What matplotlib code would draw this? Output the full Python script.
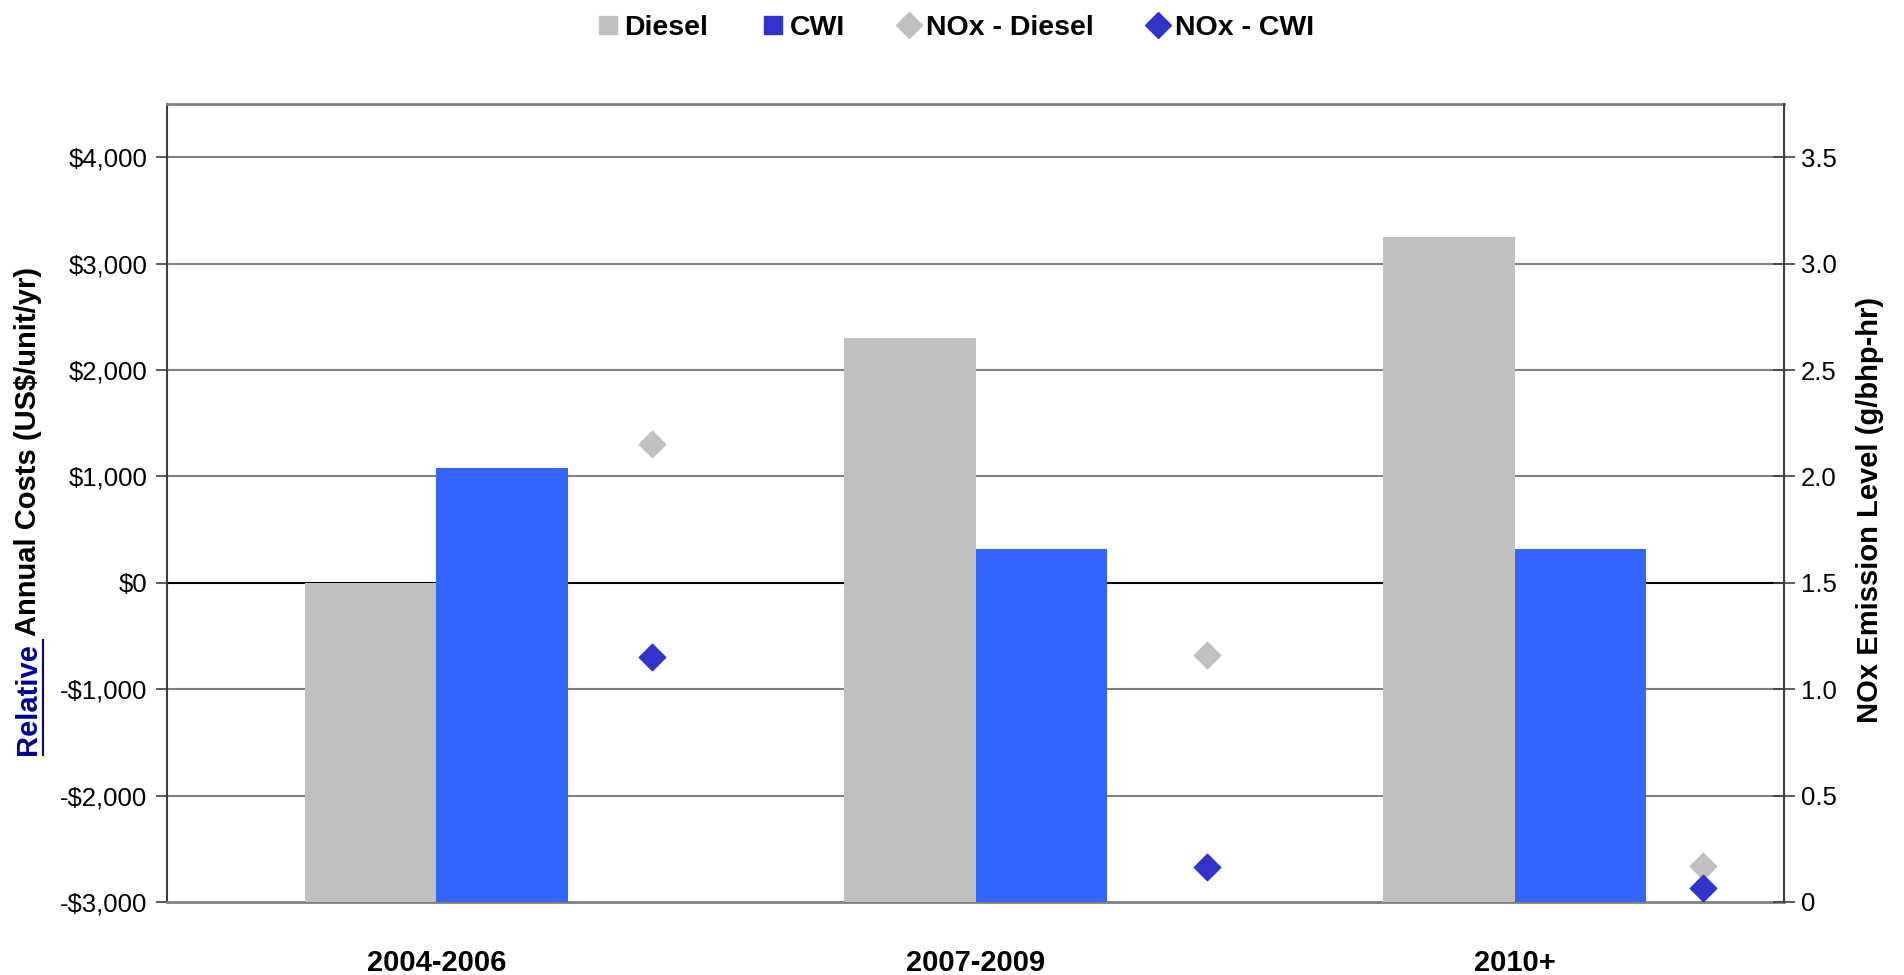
import numpy as np
import matplotlib
matplotlib.use('Agg')
import matplotlib.pyplot as plt
from matplotlib.lines import Line2D
from matplotlib.ticker import FuncFormatter

plt.rcParams['font.family'] = ['Liberation Sans', 'DejaVu Sans']

periods = ['2004-2006', '2007-2009', '2010+']
diesel_cost = [0, 2300, 3250]
cwi_cost = [1075, 320, 320]
nox_x = [0.40, 1.43, 2.35]
nox_diesel = [2.15, 1.16, 0.17]
nox_cwi = [1.15, 0.165, 0.065]

grey = '#C0C0C0'
blue_bar = '#3366FF'
blue_dark = '#3333CC'

fig = plt.figure(figsize=(19.04, 9.75), dpi=100)
ax = fig.add_axes([0.0877, 0.0749, 0.937 - 0.0877, 0.8933 - 0.0749])

x = np.arange(len(periods))
w = 0.244
base = -3000
# bars grow from the bottom of the axis (-3000), like the spreadsheet version
ax.bar(x - w / 2, np.array(diesel_cost) - base, w, bottom=base, color=grey, zorder=3)
ax.bar(x + w / 2, np.array(cwi_cost) - base, w, bottom=base, color=blue_bar, zorder=3)

ax.set_xlim(-0.5, 2.5)
ax.set_ylim(-3000, 4500)
ax.set_yticks(np.arange(-3000, 4001, 1000))
ax.yaxis.set_major_formatter(FuncFormatter(
    lambda v, p: ('-$' if v < 0 else '$') + f'{abs(v):,.0f}'))
for v in range(-2000, 4001, 1000):
    ax.axhline(v, color='black' if v == 0 else '#808080', lw=1.5, zorder=1)
ax.tick_params(axis='y', labelsize=18.5, length=8, width=1.2, color='#404040', pad=6)
ax.set_xticks(x)
ax.set_xticklabels(periods, fontsize=21, fontweight='bold')
ax.tick_params(axis='x', length=0, pad=34)
for s in ['top', 'bottom']:
    ax.spines[s].set_color('#808080')
    ax.spines[s].set_linewidth(2)
ax.spines['left'].set_color('#404040')
ax.spines['left'].set_linewidth(1.5)

ax2 = ax.twinx()
ax2.scatter(nox_x, nox_diesel, marker='D', s=13.5 ** 2, color=grey, zorder=4)
ax2.scatter(nox_x, nox_cwi, marker='D', s=13.5 ** 2, color=blue_dark, zorder=4)
ax2.set_ylim(0, 3.75)
ax2.set_yticks(np.arange(0, 3.51, 0.5))
ax2.yaxis.set_major_formatter(FuncFormatter(lambda v, p: '0' if v == 0 else f'{v:.1f}'))
ax2.tick_params(axis='y', labelsize=18.5, length=16, width=1.2, color='#404040',
                direction='inout', pad=4)
ax2.spines['right'].set_color('#404040')
ax2.spines['right'].set_linewidth(1.5)
for s in ['top', 'bottom', 'left']:
    ax2.spines[s].set_visible(False)

# axis titles
t1 = fig.text(0.0145, (975 - 755) / 975, 'Relative', rotation=90, fontsize=21,
              fontweight='bold', color='#000099', ha='center', va='bottom')
t2 = ax.annotate(' Annual Costs (US$/unit/yr)', xy=(0.5, 1), xycoords=t1,
                 rotation=90, fontsize=21, fontweight='bold', ha='center', va='bottom')
fig.text(0.982, 0.477, 'NOx Emission Level (g/bhp-hr)', rotation=90, fontsize=21,
         fontweight='bold', ha='center', va='center')

handles = [
    Line2D([], [], ls='none', marker='s', ms=13, color=grey),
    Line2D([], [], ls='none', marker='s', ms=13, color=blue_dark),
    Line2D([], [], ls='none', marker='D', ms=13, color=grey),
    Line2D([], [], ls='none', marker='D', ms=13, color=blue_dark),
]
fig.legend(handles, ['Diesel', 'CWI', 'NOx - Diesel', 'NOx - CWI'], loc='center',
           bbox_to_anchor=(0.502, 0.971), ncol=4, frameon=False,
           prop={'weight': 'bold', 'size': 20.5},
           handlelength=0.7, handletextpad=0.25, columnspacing=1.9,
           borderpad=0, borderaxespad=0)

# underline under "Relative"
fig.canvas.draw()
bb = t1.get_window_extent()
inv = fig.transFigure.inverted()
(x0, y0), (x1, y1) = inv.transform([(bb.x1 + 1, bb.y0), (bb.x1 + 1, bb.y1 + 3)])
fig.add_artist(Line2D([x0, x1], [y0, y1], color='#000099', lw=1.5, transform=fig.transFigure))

fig.savefig('out.png', dpi=100)
